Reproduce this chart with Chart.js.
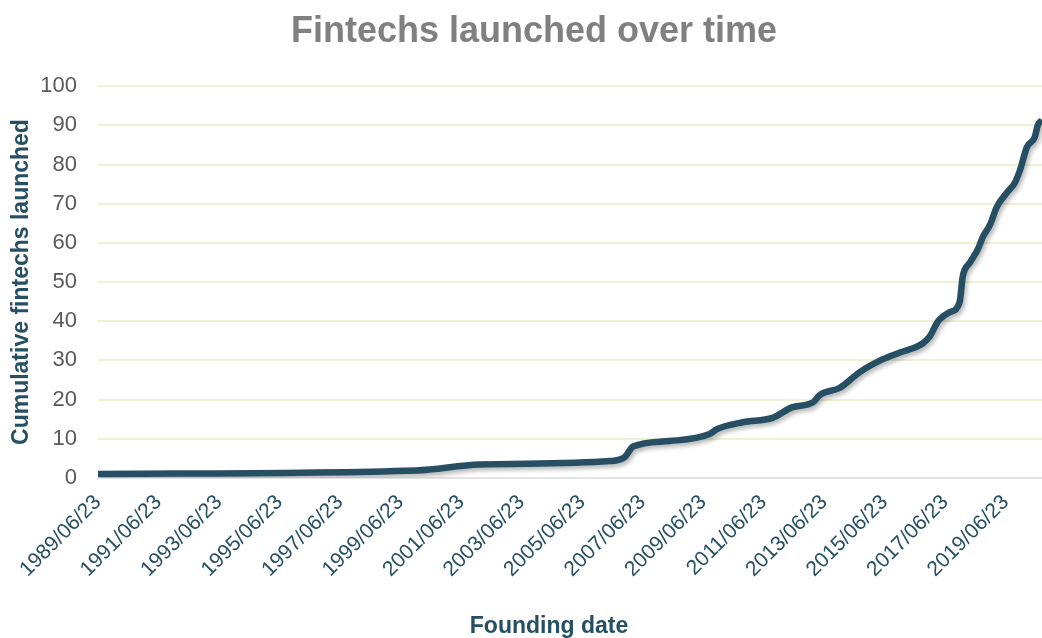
<!DOCTYPE html>
<html>
<head>
<meta charset="utf-8">
<script src="https://cdn.jsdelivr.net/npm/chart.js@4.4.1/dist/chart.umd.min.js"></script>
<style>
  html, body { margin: 0; padding: 0; background: #ffffff; }
  #wrap { width: 1042px; height: 638px; position: relative; }
</style>
</head>
<body>
<div id="wrap"><canvas id="c"></canvas></div>
<script>
// ---- Data ----
const tickLabels = [
  '1989/06/23', '1991/06/23', '1993/06/23', '1995/06/23', '1997/06/23',
  '1999/06/23', '2001/06/23', '2003/06/23', '2005/06/23', '2007/06/23',
  '2009/06/23', '2011/06/23', '2013/06/23', '2015/06/23', '2017/06/23',
  '2019/06/23'
];
const foundingDates = [
  '1989-06-23', '2000-01-01', '2002-02-01', '2006-05-26', '2006-11-20',
  '2007-03-01', '2008-05-15', '2009-09-10', '2009-12-05', '2010-10-15',
  '2011-10-10', '2012-05-30', '2013-02-10', '2013-05-05', '2014-01-01',
  '2014-08-28', '2015-06-03', '2015-12-25', '2016-09-25', '2016-12-20',
  '2017-03-15', '2017-04-20', '2017-08-18', '2017-12-15', '2018-01-22',
  '2018-04-20', '2018-07-22', '2018-09-24', '2018-12-15', '2019-03-10',
  '2019-07-08', '2019-10-12', '2019-12-15', '2020-03-08', '2020-06-10',
  '2020-07-15', '2020-09-05'
];
const cumulativeFintechs = [
  1.0, 1.9, 3.4, 4.3, 5.3,
  8.0, 9.4, 11.2, 12.4, 14.2,
  15.3, 18.0, 19.3, 21.2, 23.0,
  27.0, 30.3, 32.0, 34.3, 36.1,
  39.5, 40.5, 42.3, 44.8, 51.4,
  55.0, 58.3, 61.6, 64.5, 69.2,
  72.8, 75.3, 78.6, 84.5, 87.0,
  90.0, 91.4
];
const axisEndDate = '2020-09-05';

// ---- Helpers ----
const toTs = s => Date.parse(s.replace(/\//g, '-') + 'T00:00:00Z');
const tickValues = tickLabels.map(toTs);
const points = foundingDates.map((d, i) => ({ x: toTs(d), y: cumulativeFintechs[i] }));

const FONT = "'Liberation Sans', Arial, Helvetica, sans-serif";
const TEAL = '#264f63';
const CHART_TITLE = 'Fintechs launched over time';
const X_TITLE = 'Founding date';

const shadowPlugin = {
  id: 'lineShadow',
  beforeDatasetsDraw(chart) {
    const ctx = chart.ctx;
    ctx.save();
    ctx.shadowColor = 'rgba(0,0,0,0.28)';
    ctx.shadowBlur = 4;
    ctx.shadowOffsetX = 2;
    ctx.shadowOffsetY = 3;
  },
  afterDatasetsDraw(chart) {
    chart.ctx.restore();
  }
};

// shift the title blocks horizontally (Excel-style centring)
const titleShiftPlugin = {
  id: 'titleShift',
  afterLayout(chart) {
    chart.boxes.forEach(b => {
      if (!b.options || b.options.text === undefined) return;
      let dx = 0;
      if (b.options.text === CHART_TITLE) dx = 13;
      if (b.options.text === X_TITLE) dx = 28;
      b.left += dx; b.right += dx;
    });
  }
};

new Chart(document.getElementById('c'), {
  type: 'line',
  data: {
    datasets: [{
      data: points,
      borderColor: TEAL,
      borderWidth: 6.5,
      pointRadius: 0,
      cubicInterpolationMode: 'monotone',
      borderJoinStyle: 'round',
      borderCapStyle: 'butt',
      fill: false
    }]
  },
  plugins: [shadowPlugin, titleShiftPlugin],
  options: {
    responsive: true,
    maintainAspectRatio: false,
    animation: false,
    layout: { padding: { left: 0, right: 0, top: 0, bottom: 0 } },
    plugins: {
      legend: { display: false },
      tooltip: { enabled: false },
      title: {
        display: true,
        text: CHART_TITLE,
        color: '#808080',
        font: { family: FONT, size: 36, weight: 'bold', lineHeight: 1.2 },
        padding: { top: 10, bottom: 33 }
      },
      subtitle: {
        display: true,
        position: 'bottom',
        text: X_TITLE,
        color: TEAL,
        font: { family: FONT, size: 23, weight: 'bold', lineHeight: 1 },
        padding: { top: 21, bottom: 0 }
      }
    },
    scales: {
      x: {
        type: 'linear',
        min: toTs(tickLabels[0]),
        max: toTs(axisEndDate),
        afterBuildTicks(scale) {
          scale.ticks = tickValues.map(v => ({ value: v }));
        },
        afterFit(scale) {
          scale.paddingRight = 0;
          scale.paddingLeft = 0;
        },
        grid: { display: false, drawTicks: false },
        border: { display: true, color: '#e3e3e3', width: 2 },
        ticks: {
          autoSkip: false,
          minRotation: 45,
          maxRotation: 45,
          padding: 12,
          color: TEAL,
          font: { family: FONT, size: 21 },
          callback(value, index) { return tickLabels[index]; }
        }
      },
      y: {
        min: 0,
        max: 100,
        afterFit(scale) { scale.width = 98; },
        grid: {
          drawTicks: false,
          color: ctx => (ctx.tick && ctx.tick.value === 0) ? 'rgba(0,0,0,0)' : '#eef2d2',
          lineWidth: 2
        },
        border: { display: false },
        ticks: {
          stepSize: 10,
          padding: 21,
          color: '#595959',
          font: { family: FONT, size: 22 }
        },
        title: {
          display: true,
          text: 'Cumulative fintechs launched',
          color: TEAL,
          font: { family: FONT, size: 23, weight: 'bold', lineHeight: 1.2 },
          padding: { top: 8, bottom: 8 }
        }
      }
    }
  }
});
</script>
</body>
</html>
